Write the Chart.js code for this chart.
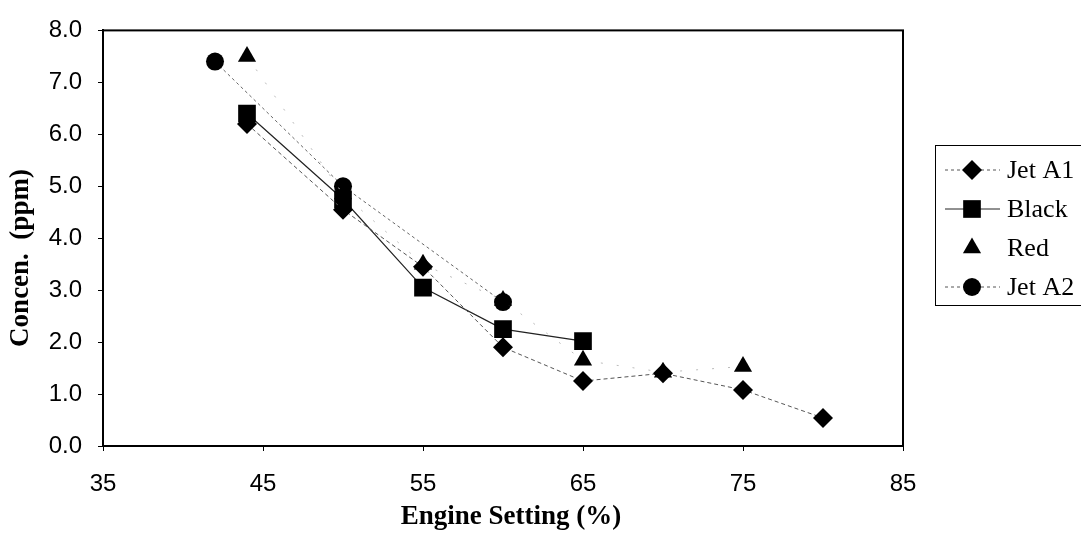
<!DOCTYPE html>
<html>
<head>
<meta charset="utf-8">
<title>Concentration vs Engine Setting</title>
<script src="https://cdn.jsdelivr.net/npm/chart.js@4.4.1/dist/chart.umd.min.js"></script>
<style>
  html, body { margin: 0; padding: 0; background: #fff; }
  #wrap { position: relative; width: 1081px; height: 546px; }
</style>
</head>
<body>
<div id="wrap"><canvas id="chart"></canvas></div>
<script>
// data
const jetA1X  = [44, 50, 55, 60, 65, 70, 75, 80];
const jetA1Y  = [6.2, 4.55, 3.45, 1.9, 1.25, 1.4, 1.08, 0.54];
const blackX  = [44, 50, 55, 60, 65];
const blackY  = [6.4, 4.75, 3.05, 2.25, 2.02];
const redX    = [44, 50, 55, 60, 65, 70, 75];
const redY    = [7.5, 4.85, 3.5, 2.8, 1.65, 1.42, 1.53];
const jetA2X  = [42, 50, 60];
const jetA2Y  = [7.4, 5.0, 2.77];
const xTicks  = [35, 45, 55, 65, 75, 85];
const yTicks  = [0, 1, 2, 3, 4, 5, 6, 7, 8];
const seriesNames = ['Jet A1', 'Black', 'Red', 'Jet A2'];

const TICK_FONT  = { family: "'Liberation Sans', Arial, sans-serif", size: 24 };
const SERIF      = "'Liberation Serif', 'Times New Roman', serif";

function pts(xs, ys) {
  return xs.map((x, i) => ({ x, y: ys[i] }));
}

const datasets = [
  {
    label: seriesNames[0], data: pts(jetA1X, jetA1Y),
    showLine: true, borderColor: '#555', borderWidth: 1, borderDash: [4, 3],
    pointStyle: 'rectRot', pointRadius: 10,
    pointBackgroundColor: '#000', pointBorderColor: '#000', pointBorderWidth: 0
  },
  {
    label: seriesNames[1], data: pts(blackX, blackY),
    showLine: true, borderColor: '#222', borderWidth: 1.2,
    pointStyle: 'rect', pointRadius: 12.5,
    pointBackgroundColor: '#000', pointBorderColor: '#000', pointBorderWidth: 0
  },
  {
    label: seriesNames[2], data: pts(redX, redY),
    showLine: true, borderColor: '#bbb', borderWidth: 1, borderDash: [2, 14],
    pointStyle: 'triangle', pointRadius: 10.5,
    pointBackgroundColor: '#000', pointBorderColor: '#000', pointBorderWidth: 0
  },
  {
    label: seriesNames[3], data: pts(jetA2X, jetA2Y),
    showLine: true, borderColor: '#666', borderWidth: 1, borderDash: [3, 3],
    pointStyle: 'circle', pointRadius: 9,
    pointBackgroundColor: '#000', pointBorderColor: '#000', pointBorderWidth: 0
  }
];

// legend sample style per series: line dash (null = solid, false = no line)
const legendLines = [[3, 3], null, false, [3, 3]];

const framePlugin = {
  id: 'frame',
  afterDraw(chart) {
    const { ctx, chartArea: a } = chart;
    ctx.save();
    ctx.strokeStyle = '#000';
    ctx.lineWidth = 2;
    ctx.strokeRect(a.left, a.top, a.right - a.left, a.bottom - a.top);

    // axis titles
    ctx.fillStyle = '#000';
    ctx.font = 'bold 27px ' + SERIF;
    ctx.textAlign = 'center';
    ctx.textBaseline = 'middle';
    ctx.fillText('Engine Setting (%)', 511, 517);
    ctx.translate(21, 258);
    ctx.rotate(-Math.PI / 2);
    ctx.fillText('Concen.  (ppm)', 0, 0);
    ctx.restore();

    // legend box
    ctx.save();
    ctx.strokeStyle = '#000';
    ctx.lineWidth = 1;
    ctx.strokeRect(935.5, 145.5, 170, 160);
    const rows = [170, 209, 248, 287];
    chart.data.datasets.forEach((ds, i) => {
      const y = rows[i];
      const dash = legendLines[i];
      if (dash !== false) {
        ctx.beginPath();
        ctx.setLineDash(dash || []);
        ctx.strokeStyle = dash ? '#555' : '#222';
        ctx.lineWidth = 1;
        ctx.moveTo(945, y);
        ctx.lineTo(1000, y);
        ctx.stroke();
        ctx.setLineDash([]);
      }
      ctx.fillStyle = '#000';
      ctx.strokeStyle = '#000';
      Chart.helpers.drawPoint(ctx, {
        pointStyle: ds.pointStyle, radius: ds.pointRadius, borderWidth: 0
      }, 972, y);
      ctx.fillStyle = '#000';
      ctx.font = '26px ' + SERIF;
      ctx.textAlign = 'left';
      ctx.textBaseline = 'middle';
      ctx.fillText(ds.label, 1007, y + 1);
    });
    ctx.restore();
  }
};

new Chart(document.getElementById('chart'), {
  type: 'scatter',
  data: { datasets },
  options: {
    responsive: true,
    maintainAspectRatio: false,
    animation: false,
    layout: { padding: { left: 0, top: 17, right: 178, bottom: 0 } },
    plugins: {
      legend: { display: false },
      tooltip: { enabled: false }
    },
    scales: {
      x: {
        type: 'linear',
        min: 35,
        max: 85,
        afterBuildTicks(scale) { scale.ticks = xTicks.map(v => ({ value: v })); },
        afterFit(scale) { scale.height = 100; },
        grid: { drawOnChartArea: false, drawTicks: true, tickLength: 5, color: '#000' },
        border: { display: true, color: '#000', width: 2 },
        ticks: { color: '#000', font: TICK_FONT, padding: 19, maxRotation: 0 }
      },
      y: {
        type: 'linear',
        min: 0,
        max: 8,
        afterBuildTicks(scale) { scale.ticks = yTicks.map(v => ({ value: v })); },
        afterFit(scale) { scale.width = 103; },
        grid: { drawOnChartArea: false, drawTicks: true, tickLength: 5, color: '#000' },
        border: { display: true, color: '#000', width: 2 },
        ticks: { color: '#000', font: TICK_FONT, padding: 16, callback: v => v.toFixed(1) }
      }
    }
  },
  plugins: [framePlugin]
});
</script>
</body>
</html>
